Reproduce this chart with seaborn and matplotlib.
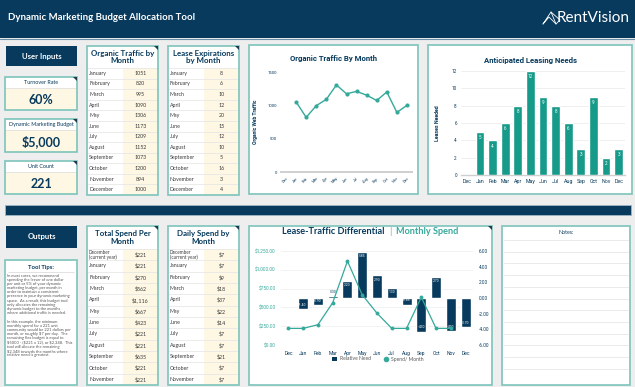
import numpy as np
import pandas as pd
import seaborn as sns
import matplotlib
matplotlib.use("Agg")
import matplotlib.pyplot as plt
from matplotlib.patches import Rectangle, Polygon, Patch
from matplotlib.lines import Line2D

# ---------------- data ----------------
months = ["January", "February", "March", "April", "May", "June", "July",
          "August", "September", "October", "November", "December"]
organic_traffic = [1051, 820, 995, 1090, 1306, 1173, 1209, 1152, 1073, 1200, 894, 1000]
lease_expirations = [8, 6, 10, 12, 20, 15, 12, 10, 5, 16, 3, 4]

chart_slots = ["Dec ", "Jan", "Feb", "Mar", "Apr", "May", "Jun", "Jul", "Aug",
               "Sep", "Oct", "Nov", "Dec"]
chart_labels = ["Dec", "Jan", "Feb", "Mar", "Apr", "May", "Jun", "Jul", "Aug",
                "Sep", "Oct", "Nov", "Dec"]
leases_needed = [5, 4, 6, 8, 12, 9, 8, 6, 3, 9, 2, 3]          # Jan..Dec

spend_months = ["December\n(current year)", "January", "February", "March", "April",
                "May", "June", "July", "August", "September", "October", "November"]
total_spend = [221, 221, 270, 562, 1116, 667, 423, 221, 221, 635, 221, 221]
daily_spend = [7, 7, 9, 18, 37, 22, 14, 7, 7, 21, 7, 7]
relative_need = [-1.40, -0.90, 0.30, 2.20, 5.85, 2.90, 1.30, -0.85, -4.30, 2.70, -4.20, -3.70]  # Jan..Dec

turnover_rate = "60%"
marketing_budget = "$5,000"
unit_count = "221"

tooltip_p1 = ["In most cases, we recommend", "spending the lesser of one dollar",
              "per unit or 5% of your dynamic", "marketing budget, per month in",
              "order to maintain a consistent", "presence in your dynamic marketing",
              "space.  As a result, this budget tool", "only allocates the remaining",
              "dynamic budget to the months", "where additional traffic is needed."]
tooltip_p2 = ["In this example, the minimum", "monthly spend for a 221 unit",
              "community would be 221 dollars per", "month, or roughly $7 per day.  The",
              "remaining flex budget is equal to", "$5000 - ($221 x 12), or $2,348.  This",
              "tool will allocate the remaining", "$2,348 towards the months where",
              "relative need is greatest."]

# ---------------- style ----------------
sns.set_theme(style="white")
plt.rcParams["font.family"] = ["Lato", "DejaVu Sans"]
ROB = ["Roboto", "DejaVu Sans"]

NAVY = "#073a5d"
TEAL_BAR = "#169a89"
TEAL_LINE = "#35a99b"
BORDER = "#7cc4bb"
CREAM = "#fdf7e3"
BG = "#eeeeee"
TXT = "#3a3a3a"

W, H = 635, 387
fig = plt.figure(figsize=(6.35, 3.87), dpi=100)
fig.patch.set_facecolor(BG)
bg = fig.add_axes([0, 0, 1, 1])
bg.set_xlim(0, W)
bg.set_ylim(H, 0)
bg.axis("off")


def rect_ax(x, y, w, h):
    return fig.add_axes([x / W, 1 - (y + h) / H, w / W, h / H])


def box(x, y, w, h, fc, ec="none", lw=0, z=1):
    bg.add_patch(Rectangle((x, y), w, h, facecolor=fc, edgecolor=ec, linewidth=lw, zorder=z))


def corner(x, y, w):
    bg.add_patch(Polygon([[x + w - 4, y], [x + w, y], [x + w, y + 4]], closed=True,
                         facecolor="#1d3b4f", edgecolor="none", zorder=6))


# header
box(0, 0, W, 38, NAVY, z=2)
bg.plot([0, W], [38.5, 38.5], color="#6d8fa6", lw=0.8, zorder=3)
bg.text(8, 18, "Dynamic Marketing Budget Allocation Tool", color="white", fontsize=6.9,
        fontweight="bold", va="center", ha="left", zorder=4)
bg.text(630, 18.5, "RentVision", color="white", fontsize=11, va="center", ha="right", zorder=4)
bg.plot([543, 551, 560, 556, 549, 543], [24, 12, 20, 24, 17, 24], color="white", lw=0.6, zorder=4)
bg.plot([551, 556], [12, 24], color="white", lw=0.6, zorder=4)

# ---------------- inputs column ----------------
box(6, 46, 71, 20, NAVY, z=2)
bg.text(41.5, 56, "User Inputs", color="white", fontsize=5.6, fontweight="bold",
        ha="center", va="center", zorder=3)


def input_box(y, title, value):
    box(5, y, 72, 33, "white", z=2)
    box(5, y + 11, 72, 22, CREAM, z=2)
    box(5, y, 72, 33, "none", BORDER, 1.2, z=4)
    bg.plot([5, 77], [y + 11, y + 11], color="#dddddd", lw=0.5, zorder=3)
    bg.text(41, y + 5.8, title, color=NAVY, fontsize=3.9, ha="center", va="center", zorder=5)
    bg.text(41, y + 22.5, value, color=NAVY, fontsize=9, fontweight="bold",
            ha="center", va="center", zorder=5)
    corner(5, y, 72)


input_box(77, "Turnover Rate", turnover_rate)
input_box(119, "Dynamic Marketing Budget", marketing_budget)
input_box(161, "Unit Count", unit_count)


# ---------------- tables ----------------
def table(x, y, w, hdr_h, total_h, title, labels, values, split=36, hdr_fs=5.7):
    box(x, y, w, total_h, "white", z=2)
    box(x + split, y + hdr_h, w - split, total_h - hdr_h, CREAM, z=2)
    bg.text(x + w / 2, y + hdr_h / 2, title, ha="center", va="center", fontsize=hdr_fs,
            fontweight="bold", color=NAVY, linespacing=1.05, zorder=5)
    n = len(labels)
    row_h = (total_h - hdr_h) / n
    for i, (lab, val) in enumerate(zip(labels, values)):
        yc = y + hdr_h + row_h * (i + 0.5)
        fs = 3.3 if "\n" in lab else 3.8
        bg.text(x + 2, yc, lab, fontsize=fs, va="center", ha="left", color=TXT,
                linespacing=0.95, zorder=5)
        bg.text(x + split + (w - split) / 2, yc, val, fontsize=3.8, va="center",
                ha="center", color=TXT, zorder=5)
        bg.plot([x, x + w], [y + hdr_h + row_h * i] * 2, color="#e3e3e3", lw=0.5, zorder=3)
    box(x, y, w, total_h, "none", BORDER, 1.2, z=4)
    corner(x, y, w)


table(87, 46, 71, 22, 149, "Organic Traffic by\nMonth", months,
      [str(v) for v in organic_traffic])
table(168, 46, 71, 22, 149, "Lease Expirations\nby Month", months,
      [str(v) for v in lease_expirations])

box(5, 205, 626, 10, NAVY, "#9fb6c6", 0.6, z=2)

box(6, 226, 71, 22, NAVY, z=2)
bg.text(41.5, 237, "Outputs", color="white", fontsize=5.6, fontweight="bold",
        ha="center", va="center", zorder=3)

table(87, 226, 71, 23, 159, "Total Spend Per\nMonth", spend_months,
      ["${:,}".format(v) for v in total_spend])
table(168, 226, 71, 23, 159, "Daily Spend by\nMonth", spend_months,
      ["${:,}".format(v) for v in daily_spend])

# tool tips
box(5, 260, 72, 125, "white", BORDER, 1.2, z=2)
bg.text(41, 267, "Tool Tips:", color=NAVY, fontsize=4.2, fontweight="bold",
        ha="center", va="center", zorder=5)
bg.plot([8, 74], [272, 272], color="#cccccc", lw=0.4, zorder=5)
yy = 275.5
for line in tooltip_p1:
    bg.text(7, yy, line, fontsize=2.9, color="#555555", ha="left", va="center", zorder=5)
    yy += 4.2
yy += 4.2
for line in tooltip_p2:
    bg.text(7, yy, line, fontsize=2.9, color="#555555", ha="left", va="center", zorder=5)
    yy += 4.2

# chart boxes
box(249, 45, 169, 149, "white", BORDER, 1.2, z=2)
box(428, 45, 204, 149, "white", BORDER, 1.2, z=2)
box(249, 226, 243, 159, "white", BORDER, 1.2, z=2)
corner(249, 226, 243)
box(502, 226, 128, 159, "white", BORDER, 1.2, z=2)
bg.text(566, 232, "Notes:", color=NAVY, fontsize=3.8, ha="center", va="center", zorder=5)
for k in range(12):
    yl = 240 + k * 11.7
    if yl < 383:
        bg.plot([504, 628], [yl, yl], color="#e6e6e6", lw=0.6, zorder=3)

# ---------------- chart 1: organic traffic ----------------
bg.text(334, 59, "Organic Traffic By Month", color=NAVY, fontsize=5.6, fontweight="bold",
        ha="center", va="center", zorder=5, family=ROB)
ax1 = rect_ax(281, 72, 131, 100)
ax1.set_facecolor("none")
sns.lineplot(x=np.arange(1, 13), y=organic_traffic, ax=ax1, color=TEAL_LINE,
             marker="o", markersize=3, linewidth=1.0, markeredgewidth=0)
ax1.set_xlim(-0.5, 12.5)
ax1.set_ylim(0, 1500)
ax1.set_yticks([0, 500, 1000, 1500])
ax1.set_yticklabels(["0", "500", "1000", "1500"], fontsize=3.0, color=NAVY, family=ROB)
ax1.set_xticks(range(13))
ax1.set_xticklabels(chart_labels, rotation=45, ha="right", rotation_mode="anchor",
                    fontsize=2.8, color=NAVY, family=ROB)
ax1.tick_params(axis="both", length=0, pad=3)
ax1.set_ylabel("Organic Web Traffic", fontsize=3.6, color=NAVY, fontweight="bold",
               labelpad=7, family=ROB)
ax1.set_xlabel("")
for s in ["top", "right", "left"]:
    ax1.spines[s].set_visible(False)
ax1.spines["bottom"].set_color("#cfcfcf")
ax1.spines["bottom"].set_linewidth(1.4)
ax1.grid(False)

# ---------------- chart 2: leasing needs ----------------
bg.text(530, 60, "Anticipated Leasing Needs", color=NAVY, fontsize=5.6, fontweight="bold",
        ha="center", va="center", zorder=5, family=ROB)
ax2 = rect_ax(461, 71, 164, 104)
ax2.set_facecolor("none")
sns.barplot(x=chart_slots[1:], y=leases_needed, order=chart_slots, color=TEAL_BAR,
            saturation=1, width=0.7, ax=ax2, zorder=3)
ax2.set_ylim(0, 12)
ax2.set_yticks(range(0, 13, 2))
ax2.set_yticklabels([str(v) for v in range(0, 13, 2)], fontsize=3.3, color=NAVY, family=ROB)
ax2.set_xticks(range(13))
ax2.set_xticklabels(chart_labels, fontsize=3.8, color=NAVY, family=ROB)
ax2.tick_params(axis="both", length=0, pad=3)
ax2.yaxis.grid(True, color="#ececec", lw=0.6)
ax2.set_axisbelow(True)
ax2.set_ylabel("Leases Needed", fontsize=3.8, color=NAVY, fontweight="bold", labelpad=8,
               family=ROB)
ax2.set_xlabel("")
for s in ["top", "right", "left"]:
    ax2.spines[s].set_visible(False)
ax2.spines["bottom"].set_color("#cfcfcf")
ax2.spines["bottom"].set_linewidth(1.0)
ax2.bar_label(ax2.containers[0], labels=[str(v) for v in leases_needed], padding=-6,
              fontsize=3.3, color="white", family=ROB)

# ---------------- chart 3: differential ----------------
bg.text(385, 232, "Lease-Traffic Differential", color=NAVY, fontsize=6.6, fontweight="bold",
        ha="right", va="center", zorder=5)
bg.text(390.5, 232, "|", color="#9a9a9a", fontsize=6.6, ha="center", va="center", zorder=5)
bg.text(396, 232, "Monthly Spend", color=TEAL_LINE, fontsize=6.6, fontweight="bold",
        ha="left", va="center", zorder=5)

ax3 = rect_ax(281, 251, 192, 94)
ax3.set_facecolor("none")
for k in range(6):
    ax3.axhline(-6 + k * 2.4, color="#f0f0f0", lw=0.6, zorder=0)
sns.barplot(x=chart_slots[1:], y=relative_need, order=chart_slots, color=NAVY,
            saturation=1, width=0.68, ax=ax3, zorder=2)
lbls = ["" if abs(v) < 0.5 else "{:.2f}".format(v) for v in relative_need]
ax3.bar_label(ax3.containers[0], labels=lbls, padding=-4.5, fontsize=2.4, color="white",
              family=ROB)
small = [("{:.2f}".format(v) if abs(v) < 0.5 else "") for v in relative_need]
ax3.bar_label(ax3.containers[0], labels=small, padding=1, fontsize=2.4, color=NAVY,
              family=ROB)

ax4 = ax3.twinx()
ax4.set_facecolor("none")
sns.lineplot(x=np.arange(12), y=total_spend, ax=ax4, color=TEAL_LINE, marker="o",
             markersize=2.8, linewidth=0.9, markeredgewidth=0)

# bars' axis on the right, spend axis on the left
ax3.yaxis.tick_right()
ax3.yaxis.set_label_position("right")
ax4.yaxis.tick_left()
ax4.yaxis.set_label_position("left")

ax3.set_ylim(-6, 6)
ax3.set_yticks(range(-6, 7, 2))
ax3.set_yticklabels(["{:.2f}".format(v) for v in range(-6, 7, 2)], fontsize=3.4,
                    color=NAVY, family=ROB)
ax3.set_xticks(range(13))
ax3.set_xticklabels(chart_labels, fontsize=3.6, color=NAVY, family=ROB)
ax3.tick_params(axis="both", length=0, pad=4)
ax3.set_xlabel("")
ax3.set_ylabel("")
for s in ax3.spines.values():
    s.set_visible(False)

ax4.set_ylim(0, 1250)
ax4.set_yticks(range(0, 1251, 250))
ax4.set_yticklabels(["${:,.2f}".format(v) for v in range(0, 1251, 250)], fontsize=3.4,
                    color=TEAL_LINE, family=ROB)
ax4.tick_params(axis="both", length=0, pad=4)
ax4.set_ylabel("")
ax4.grid(False)
for s in ax4.spines.values():
    s.set_visible(False)
ax3.set_xlim(-0.5, 12.5)

handles = [Patch(facecolor=NAVY, edgecolor="none", label="Relative Need"),
           Line2D([0], [0], color=TEAL_LINE, marker="o", lw=0, markersize=3, label="Spend/ Month")]
fig.legend(handles=handles, loc="center", bbox_to_anchor=(378 / W, 1 - 359 / H), ncol=2,
           frameon=False, fontsize=3.6, handlelength=1.0, handleheight=0.8, columnspacing=2.5,
           handletextpad=0.6, labelcolor="#555555")

fig.savefig("out.png", dpi=100, facecolor=BG)
